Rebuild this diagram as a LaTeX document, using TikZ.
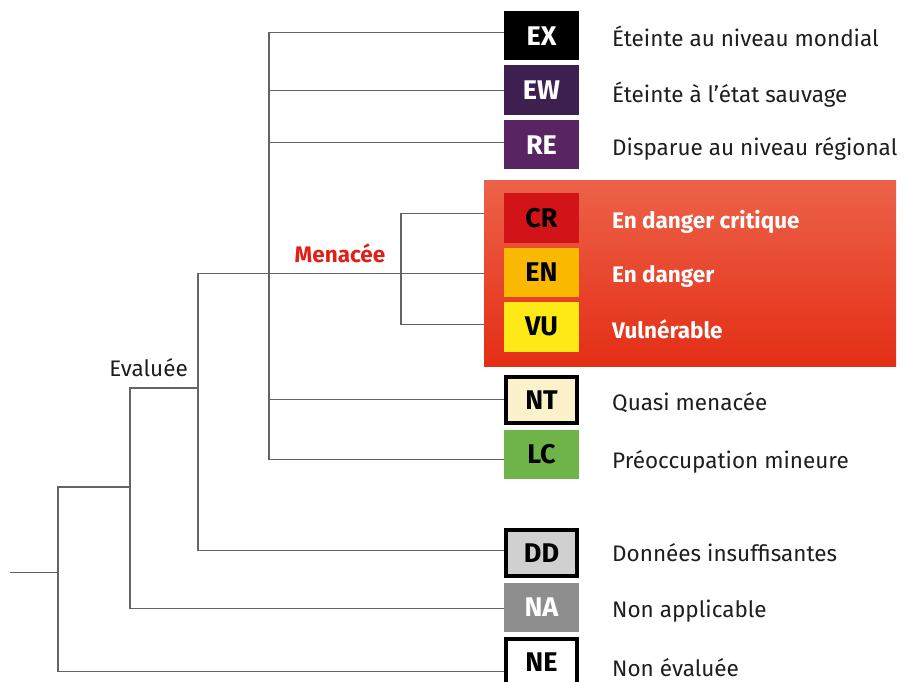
\documentclass[tikz,border=0pt]{standalone}
\usepackage{fontspec}
\setmainfont{Fira Sans}
\usetikzlibrary{positioning}
\definecolor{ewpurple}{RGB}{62,32,80}
\definecolor{repurple}{RGB}{88,36,98}
\definecolor{crred}{RGB}{210,20,24}
\definecolor{enorange}{RGB}{250,185,0}
\definecolor{vuyellow}{RGB}{252,233,22}
\definecolor{ntcream}{RGB}{251,242,204}
\definecolor{lcgreen}{RGB}{110,180,72}
\definecolor{ddgray}{RGB}{208,208,208}
\definecolor{nagray}{RGB}{142,142,142}
\definecolor{ink}{RGB}{30,30,30}
\definecolor{menred}{RGB}{224,32,22}
\definecolor{treegray}{RGB}{100,100,100}
\definecolor{zonetop}{RGB}{236,98,72}
\definecolor{zonebottom}{RGB}{228,46,22}

\begin{document}
\begin{tikzpicture}[x=1pt, y=-1pt,
    catbox/.style={minimum width=75pt, minimum height=49.5pt, inner sep=0pt,
                   outer sep=0pt, font=\fontsize{27}{27}\selectfont\bfseries},
    catframe/.style={catbox, draw=black, line width=4pt, outer sep=2pt,
                     minimum width=71pt, minimum height=45.5pt},
    lbl/.style={anchor=mid west, inner sep=0pt, text=ink, yshift=-8pt,
                font=\fontsize{22.5}{27}\selectfont},
    lblhot/.style={lbl, text=white, font=\fontsize{22.5}{27}\selectfont\bfseries},
    branch/.style={draw=treegray, line width=1.3pt},
    hotzone/.style={minimum width=412pt, minimum height=185pt, inner sep=0pt,
                    top color=zonetop, bottom color=zonebottom}
  ]
  \useasboundingbox (0,0) rectangle (908,682);

  % threatened zone
  \node[hotzone] (zone) at (690,273.5) {};

  % category boxes
  \node[catbox, fill=black, text=white] (ex) at (541.5,35.75) {EX};
  \node[catbox, fill=ewpurple, text=white, below=5pt of ex] (ew) {EW};
  \node[catbox, fill=repurple, text=white, below=5pt of ew] (re) {RE};
  \node[catbox, fill=crred, text=black, below=23.5pt of re] (cr) {CR};
  \node[catbox, fill=enorange, text=black, below=5pt of cr] (en) {EN};
  \node[catbox, fill=vuyellow, text=black, below=5pt of en] (vu) {VU};
  \node[catframe, fill=ntcream, text=black, below=23.5pt of vu] (nt) {NT};
  \node[catbox, fill=lcgreen, text=black, below=5pt of nt] (lc) {LC};
  \node[catframe, fill=ddgray, text=black, below=49pt of lc] (dd) {DD};
  \node[catbox, fill=nagray, text=white, below=5pt of dd] (na) {NA};
  \node[catframe, fill=white, text=black, below=5pt of na] (ne) {NE};

  % category names
  \node[right=33pt of ex, lbl] (exlbl) {Éteinte au niveau mondial};
  \node[right=33pt of ew, lbl, yshift=-2pt] (ewlbl) {Éteinte à l’état sauvage};
  \node[right=33pt of re, lbl] (relbl) {Disparue au niveau régional};
  \node[right=33pt of cr, lblhot] (crlbl) {En danger critique};
  \node[right=33pt of en, lblhot] (enlbl) {En danger};
  \node[right=33pt of vu, lblhot, yshift=-1pt] (vulbl) {Vulnérable};
  \node[right=33pt of nt, lbl] (ntlbl) {Quasi menacée};
  \node[right=33pt of lc, lbl, yshift=-4pt] (lclbl) {Préoccupation mineure};
  \node[right=33pt of dd, lbl, yshift=2pt] (ddlbl) {Données insuffisantes};
  \node[right=33pt of na, lbl] (nalbl) {Non applicable};
  \node[right=33pt of ne, lbl, yshift=-4pt] (nelbl) {Non évaluée};

  % group names
  \node[anchor=base east, inner sep=0pt, text=ink,
        font=\fontsize{22.5}{27}\selectfont] (evaluee) at (188,376.5) {Evaluée};
  \node[anchor=base, inner sep=0pt, text=menred,
        font=\fontsize{22.5}{27}\selectfont\bfseries] (menacee) at (340,262) {Menacée};

  % tree
  \coordinate (root) at (10,572.5);
  \coordinate (n0) at (58,572.5);
  \coordinate (n1) at (130,487);
  \coordinate (n2) at (198,388);
  \coordinate (n3) at (269,273.5);
  \coordinate (n4) at (401,273.5);

  \draw[branch] (root) -- (n0);
  \draw[branch] (n0) |- (n1);
  \draw[branch] (n0) |- ([yshift=-9.5pt]ne.west);
  \draw[branch] (n1) |- (n2);
  \draw[branch] (n1) |- ([yshift=-1pt]na.west);
  \draw[branch] (n2) |- (n3);
  \draw[branch] (n2) |- ([yshift=2.5pt]dd.west);
  \draw[branch] (n3) -- (n4);
  \draw[branch] (n3) |- ([yshift=3.5pt]ex.west);
  \draw[branch] (n3) |- (ew.west);
  \draw[branch] (n3) |- ([yshift=2.5pt]re.west);
  \draw[branch] (n3) |- (nt.west);
  \draw[branch] (n3) |- ([yshift=-5pt]lc.west);
  \draw[branch] (n4) |- ([yshift=4pt]zone.west |- cr.west);
  \draw[branch] (n4) -- (zone.west);
  \draw[branch] (n4) |- ([yshift=2.5pt]zone.west |- vu.west);
\end{tikzpicture}
\end{document}
